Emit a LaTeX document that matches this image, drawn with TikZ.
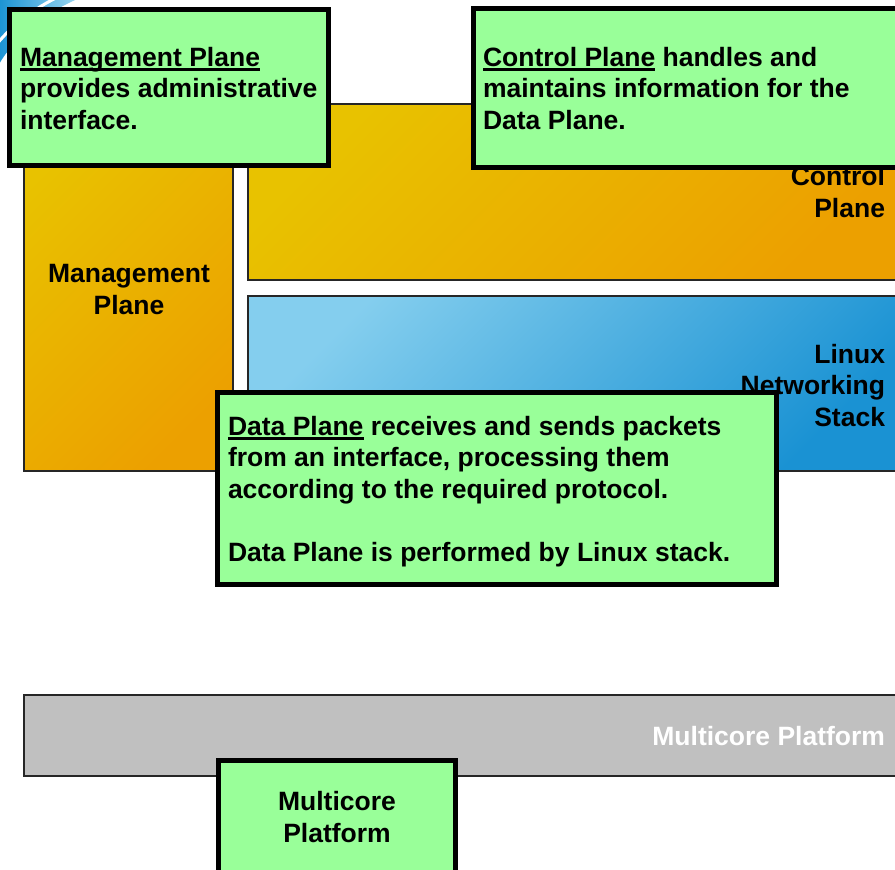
\documentclass[tikz,border=0pt]{standalone}
\usepackage{fontspec}
\setmainfont{Liberation Sans}
\definecolor{calloutgreen}{HTML}{99FF99}
\definecolor{orangeA}{HTML}{E8C200}
\definecolor{orangeB}{HTML}{ECA000}
\definecolor{blueA}{HTML}{84CEEE}
\definecolor{blueB}{HTML}{1A92D3}
\definecolor{platgray}{HTML}{C0C0C0}
\newcommand\myul[1]{\setbox0\hbox{#1}\rlap{\rule[-4.5pt]{\wd0}{2.2pt}}\box0\relax}
\begin{document}
\begin{tikzpicture}[x=1pt,y=-1pt,
  txt/.style={font=\bfseries\fontsize{26.5}{31.5}\selectfont, inner sep=0pt, outer sep=0pt},
  callout/.style={draw=black, line width=5pt, fill=calloutgreen},
  orangebox/.style={draw=black!85, line width=1.5pt, top color=orangeA, bottom color=orangeB, shading angle=45},
  bluebox/.style={draw=black!85, line width=1.5pt, top color=blueA, bottom color=blueB, shading angle=45},
  graybox/.style={draw=black!85, line width=1.5pt, fill=platgray}]
\useasboundingbox (0,0) rectangle (895,870);
\clip (0,0) rectangle (895,870);
% decorative swoosh at top-left
\shade[left color=blueB, right color=blueA!80] (-2,-2) -- (80,-2) .. controls (50,10) and (15,35) .. (-2,66) -- cycle;
\draw[white, line width=3pt] (58,-3) .. controls (35,8) and (12,25) .. (-3,44);
% plane boxes
\draw[orangebox] (24,104) rectangle (233,471);
\draw[orangebox] (248,104) rectangle (905,280);
\draw[bluebox] (248,296) rectangle (905,471);
\node[txt, anchor=base, align=center] (mgmtlbl) at (129,314) {Management\\Plane};
\node[txt, anchor=base east, align=right] (ctrllbl) at (885,217) {Control\\Plane};
\node[txt, anchor=base east, align=right] (linuxlbl) at (885,426) {Linux\\Networking\\Stack};
% platform
\draw[graybox] (24,695) rectangle (905,776);
\node[txt, anchor=base east, text=white] (platlbl) at (885,745) {Multicore Platform};
% callouts
\draw[callout] (9,9) rectangle (328.5,165.5);
\node[txt, anchor=base west, align=left] (mgmtnote) at (20,129) {\myul{Management Plane}\\provides administrative\\interface.};
\draw[callout] (473.5,8.5) rectangle (910,167.5);
\node[txt, anchor=base west, align=left] (ctrlnote) at (483,129) {\myul{Control Plane} handles and\\maintains information for the\\Data Plane.};
\draw[callout] (217.5,392.5) rectangle (776,584);
\node[txt, anchor=base west, align=left] (datanote) at (228,561) {\myul{Data Plane} receives and sends packets\\from an interface, processing them\\according to the required protocol.\\\mbox{}\\Data Plane is performed by Linux stack.};
\draw[callout] (218,760.5) rectangle (455.5,880);
\node[txt, anchor=base, align=center] (platnote) at (337,842) {Multicore\\Platform};
\end{tikzpicture}
\end{document}
